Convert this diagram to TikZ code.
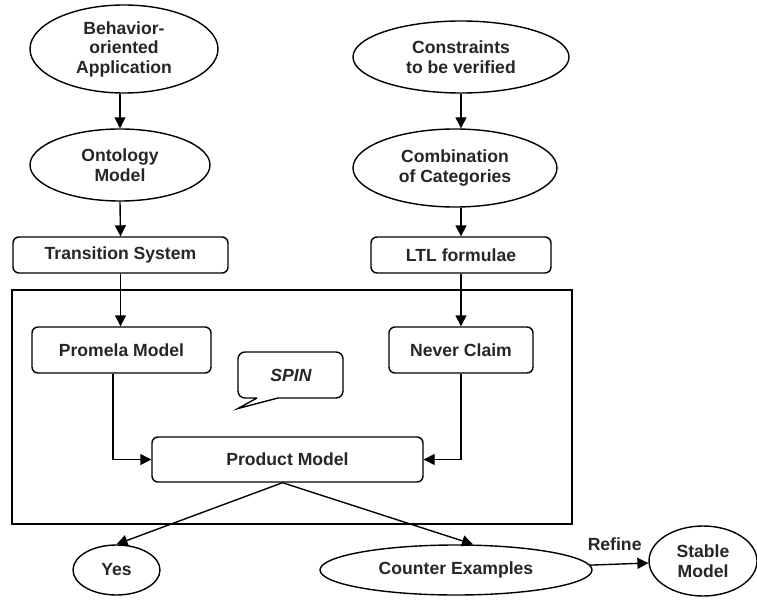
\documentclass[tikz,border=0pt]{standalone}
\usepackage{fontspec}
\setmainfont{Liberation Sans}
\usetikzlibrary{shapes.geometric,arrows.meta}
\begin{document}
\begin{tikzpicture}[x=1pt,y=-1pt,
  every node/.style={font=\fontsize{17.6}{19.5}\selectfont\bfseries, text=black!85, align=center},
  line/.style={line width=1.4pt, draw=black},
  arr/.style={line, -{Triangle[length=11pt,width=11pt]}},
  oval/.style={line, ellipse, inner sep=0pt},
  box/.style={line, rectangle, rounded corners=6pt, inner sep=0pt}]
\useasboundingbox (0,0) rectangle (757,604);

% SPIN frame
\draw[line width=1.2pt] (12,290) rectangle (572,524);

% inputs
\node[oval, minimum width=188pt, minimum height=88pt] (beh) at (124,49)
  {{Behavior-}\\{oriented}\\{Application}};
\node[oval, minimum width=180pt, minimum height=72pt] (ont) at (120,165) {Ontology\\Model};
\node[oval, minimum width=216pt, minimum height=72pt] (con) at (461,57) {Constraints\\to be verified};
\node[oval, minimum width=204pt, minimum height=78pt] (comb) at (455,168) {Combination\\of Categories};

% translated forms
\node[box, minimum width=215pt, minimum height=36pt] (ts) at (120.5,255) {Transition System};
\node[box, minimum width=180pt, minimum height=36pt] (ltl) at (461,255) {LTL formulae};

% inside the model checker
\node[box, minimum width=179pt, minimum height=46pt] (prom) at (121.5,350) {Promela Model};
\node[box, minimum width=144pt, minimum height=46pt] (nev) at (461,350) {Never Claim};
\node[box, minimum width=271pt, minimum height=45pt] (prod) at (287.5,459.5) {Product Model};

% speech bubble
\draw[line width=1.4pt] (257,398) -- (238,408.5) -- (278,398)
  [rounded corners=7pt] -- (343,398) -- (343,352) -- (238,352) -- (238,398) -- (257,398);
\node[font=\fontsize{17.6}{19.5}\selectfont\bfseries\itshape] (spin) at (291,375) {SPIN};

% outcomes
\node[oval, minimum width=87pt, minimum height=50pt] (yes) at (116.5,570) {Yes};
\node[oval, minimum width=272pt, minimum height=50pt] (cnt) at (456,570) {Counter Examples};
\node[oval, minimum width=108pt, minimum height=70pt] (stb) at (703,561) {Stable\\Model};

% connectors
\draw[arr] (beh.south -| ont.north) -- (ont.north);
\draw[arr] (ont.south) -- (ts.north);
\draw[arr] (con.south) -- (con.south |- comb.north);
\draw[arr] (comb.south -| ltl.north) -- (ltl.north);
\draw[arr] (ts.south) -- (ts.south |- prom.north);
\draw[arr] (ltl.south) -- (nev.north);
\draw[arr] ([xshift=-8.5pt]prom.south) |- (prod.west);
\draw[arr] (nev.south) |- (prod.east);
\coordinate (apex) at ([xshift=-5pt]prod.south);
\draw[arr] (apex) -- (yes.north);
\draw[arr] (apex) -- ([xshift=17pt]cnt.north);
\draw[arr] (cnt) -- node[pos=0.42, above=10pt] (ref) {Refine} (stb);
\end{tikzpicture}
\end{document}
